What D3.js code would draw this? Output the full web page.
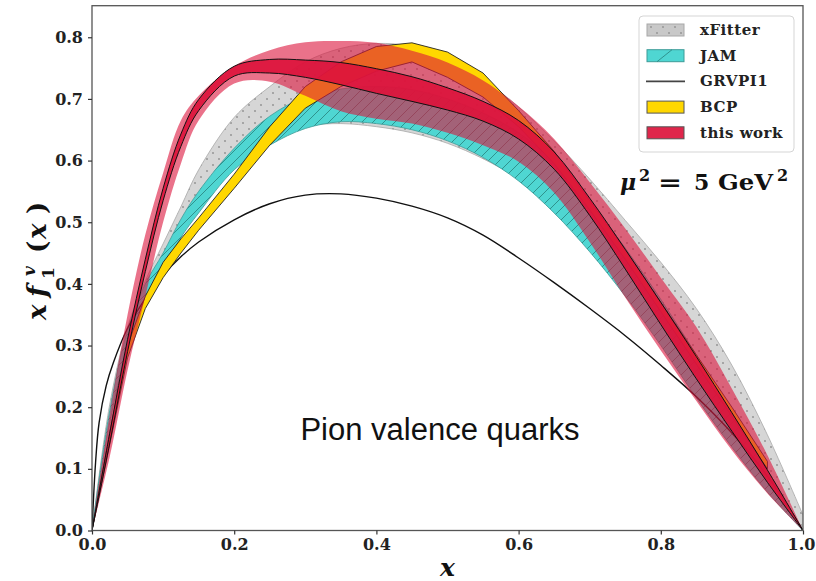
<!DOCTYPE html>
<html>
<head>
<meta charset="utf-8">
<script src="https://cdn.jsdelivr.net/npm/d3@7"></script>
<style>
  html, body { margin: 0; padding: 0; background: #fff; }
  svg { display: block; }
</style>
</head>
<body>
<svg id="chart" width="816" height="581"></svg>
<script>
// Pion valence distributions x f_1^v(x) at mu^2 = 5 GeV^2

// common x grid for the smooth bands
const xGrid = [0, 0.025, 0.05, 0.075, 0.1, 0.125, 0.15, 0.2, 0.25, 0.3, 0.35, 0.4, 0.45, 0.5, 0.55, 0.6, 0.65, 0.7, 0.75, 0.8, 0.85, 0.9, 0.95, 1.0];

// xFitter band
const xfitterLo = [0, 0.165, 0.29, 0.37, 0.42, 0.475, 0.53, 0.603, 0.642, 0.656, 0.66, 0.655, 0.645, 0.628, 0.603, 0.57, 0.525, 0.465, 0.395, 0.318, 0.237, 0.155, 0.075, 0];
const xfitterHi = [0, 0.205, 0.33, 0.405, 0.465, 0.525, 0.585, 0.67, 0.72, 0.76, 0.782, 0.79, 0.785, 0.765, 0.732, 0.687, 0.632, 0.57, 0.503, 0.435, 0.36, 0.268, 0.155, 0.025];

// JAM band
const jamLo = [0, 0.175, 0.295, 0.37, 0.42, 0.475, 0.515, 0.585, 0.625, 0.652, 0.663, 0.66, 0.65, 0.632, 0.605, 0.567, 0.515, 0.452, 0.38, 0.30, 0.215, 0.135, 0.062, 0];
const jamHi = [0, 0.195, 0.325, 0.40, 0.45, 0.505, 0.55, 0.62, 0.672, 0.703, 0.716, 0.72, 0.715, 0.70, 0.677, 0.645, 0.597, 0.533, 0.458, 0.375, 0.285, 0.19, 0.095, 0];

// GRVPI1 central curve
const grvX = [0, 0.005, 0.01, 0.02, 0.03, 0.05, 0.075, 0.1, 0.125, 0.15, 0.2, 0.25, 0.3, 0.35, 0.4, 0.45, 0.5, 0.55, 0.6, 0.65, 0.7, 0.75, 0.8, 0.85, 0.9, 0.95, 1.0];
const grvY = [0, 0.11, 0.175, 0.235, 0.272, 0.328, 0.376, 0.414, 0.444, 0.468, 0.504, 0.53, 0.544, 0.546, 0.539, 0.526, 0.507, 0.479, 0.442, 0.402, 0.36, 0.316, 0.268, 0.217, 0.158, 0.088, 0];

// BCP band (coarse grid, drawn piecewise linear)
const bcpX  = [0, 0.025, 0.05, 0.075, 0.1, 0.125, 0.15, 0.2, 0.25, 0.3, 0.35, 0.4, 0.45, 0.5, 0.55, 0.6, 0.65, 0.7, 0.75, 0.8, 0.85, 0.9, 0.95];
const bcpLo = [0, 0.14, 0.28, 0.36, 0.41, 0.45, 0.487, 0.555, 0.625, 0.685, 0.72, 0.745, 0.76, 0.735, 0.703, 0.655, 0.595, 0.52, 0.44, 0.355, 0.27, 0.185, 0.10];
const bcpHi = [0, 0.16, 0.30, 0.38, 0.435, 0.473, 0.507, 0.578, 0.655, 0.72, 0.76, 0.785, 0.791, 0.776, 0.742, 0.681, 0.615, 0.535, 0.455, 0.37, 0.285, 0.20, 0.112];

// this work: wide band and central band
const workOuterLo = [0, 0.12, 0.26, 0.38, 0.50, 0.595, 0.665, 0.725, 0.728, 0.705, 0.68, 0.668, 0.66, 0.645, 0.625, 0.598, 0.548, 0.468, 0.378, 0.292, 0.21, 0.13, 0.06, 0];
const workOuterHi = [0, 0.19, 0.35, 0.48, 0.58, 0.665, 0.705, 0.753, 0.779, 0.792, 0.794, 0.791, 0.778, 0.759, 0.73, 0.688, 0.635, 0.565, 0.49, 0.41, 0.33, 0.23, 0.122, 0];
const workInnerLo = [0, 0.142, 0.29, 0.42, 0.535, 0.623, 0.681, 0.737, 0.742, 0.735, 0.723, 0.709, 0.696, 0.682, 0.664, 0.635, 0.586, 0.511, 0.424, 0.334, 0.246, 0.161, 0.078, 0];
const workInnerHi = [0, 0.158, 0.31, 0.44, 0.555, 0.643, 0.699, 0.753, 0.764, 0.763, 0.759, 0.749, 0.736, 0.718, 0.696, 0.665, 0.614, 0.539, 0.456, 0.37, 0.282, 0.191, 0.098, 0];

// axis ticks
const xTicks = [0, 0.2, 0.4, 0.6, 0.8, 1.0];
const yTicks = [0, 0.1, 0.2, 0.3, 0.4, 0.5, 0.6, 0.7, 0.8];

// legend entries
const legendLabels = ["xFitter", "JAM", "GRVPI1", "BCP", "this work"];

const svg = d3.select("#chart");
const margin = { left: 92, right: 13, top: 5.7, bottom: 50.5 };
const W = 816, H = 581;
const yMax = 0.8512;

const x = d3.scaleLinear().domain([0, 1]).range([margin.left, W - margin.right]);
const y = d3.scaleLinear().domain([0, yMax]).range([H - margin.bottom, margin.top]);

const defs = svg.append("defs");
defs.append("clipPath").attr("id", "plotClip")
  .append("rect").attr("x", x(0)).attr("y", y(yMax))
  .attr("width", x(1) - x(0)).attr("height", y(0) - y(yMax));

// dotted hatch for xFitter
const dots = defs.append("pattern").attr("id", "dots")
  .attr("patternUnits", "userSpaceOnUse").attr("width", 12).attr("height", 12);
dots.append("circle").attr("cx", 3).attr("cy", 3).attr("r", 1.1).attr("fill", "#9a9a9a");
dots.append("circle").attr("cx", 9).attr("cy", 9).attr("r", 1.1).attr("fill", "#9a9a9a");

// diagonal hatch for JAM
const hatch = defs.append("pattern").attr("id", "hatch")
  .attr("patternUnits", "userSpaceOnUse").attr("width", 11).attr("height", 11);
hatch.append("path").attr("d", "M-1,12 L12,-1 M-3,3 L3,-3 M8,14 L14,8")
  .attr("stroke", "#2b8a86").attr("stroke-width", 0.9).attr("fill", "none");

const plot = svg.append("g").attr("clip-path", "url(#plotClip)");

function rows(xs, lo, hi) {
  return xs.map((v, i) => ({ x: v, lo: lo[i], hi: hi[i] }));
}
function bandArea(curve) {
  return d3.area().x(d => x(d.x)).y0(d => y(d.lo)).y1(d => y(d.hi)).curve(curve);
}
function edge(key, curve) {
  return d3.line().x(d => x(d.x)).y(d => y(d[key])).curve(curve);
}
const smooth = d3.curveCatmullRom.alpha(0.5);

// xFitter
const xfRows = rows(xGrid, xfitterLo, xfitterHi);
plot.append("path").datum(xfRows).attr("d", bandArea(smooth))
  .attr("fill", "#c8c8c8").attr("fill-opacity", 0.75);
plot.append("path").datum(xfRows).attr("d", bandArea(smooth)).attr("fill", "url(#dots)");
["lo", "hi"].forEach(k => plot.append("path").datum(xfRows).attr("d", edge(k, smooth))
  .attr("fill", "none").attr("stroke", "#a8a8a8").attr("stroke-width", 0.8));

// JAM
const jamRows = rows(xGrid, jamLo, jamHi);
plot.append("path").datum(jamRows).attr("d", bandArea(smooth)).attr("fill", "#4fd6d2");
plot.append("path").datum(jamRows).attr("d", bandArea(smooth)).attr("fill", "url(#hatch)");
["lo", "hi"].forEach(k => plot.append("path").datum(jamRows).attr("d", edge(k, smooth))
  .attr("fill", "none").attr("stroke", "#3d9c98").attr("stroke-width", 0.8));

// GRVPI1
plot.append("path").datum(grvX.map((v, i) => ({ x: v, c: grvY[i] })))
  .attr("d", edge("c", smooth))
  .attr("fill", "none").attr("stroke", "#111").attr("stroke-width", 1.4);

// BCP
const bcpRows = rows(bcpX, bcpLo, bcpHi);
plot.append("path").datum(bcpRows).attr("d", bandArea(d3.curveLinear))
  .attr("fill", "#ffd700").attr("stroke", "#222").attr("stroke-width", 0.9);

// this work
const outerRows = rows(xGrid, workOuterLo, workOuterHi);
plot.append("path").datum(outerRows).attr("d", bandArea(smooth))
  .attr("fill", "#dc143c").attr("fill-opacity", 0.6);
const innerRows = rows(xGrid, workInnerLo, workInnerHi);
plot.append("path").datum(innerRows).attr("d", bandArea(smooth))
  .attr("fill", "#dc143c").attr("fill-opacity", 0.92);
["lo", "hi"].forEach(k => plot.append("path").datum(innerRows).attr("d", edge(k, smooth))
  .attr("fill", "none").attr("stroke", "#111").attr("stroke-width", 1));

// frame
svg.append("rect").attr("x", x(0)).attr("y", y(yMax))
  .attr("width", x(1) - x(0)).attr("height", y(0) - y(yMax))
  .attr("fill", "none").attr("stroke", "#555").attr("stroke-width", 1.3);

// axes
const serif = "'DejaVu Serif', serif";
const xAxis = svg.append("g").attr("transform", `translate(0,${y(0)})`)
  .call(d3.axisBottom(x).tickValues(xTicks).tickFormat(d3.format(".1f")).tickSize(4).tickPadding(4));
const yAxis = svg.append("g").attr("transform", `translate(${x(0)},0)`)
  .call(d3.axisLeft(y).tickValues(yTicks).tickFormat(d3.format(".1f")).tickSize(4).tickPadding(5));
[xAxis, yAxis].forEach(a => {
  a.select(".domain").remove();
  a.selectAll(".tick line").attr("stroke", "#333").attr("stroke-width", 1.2);
  a.selectAll(".tick text").attr("font-family", serif).attr("font-weight", "bold")
    .attr("font-size", 16).attr("fill", "#222");
});
// keep the last x label inside the canvas
xAxis.selectAll(".tick text").filter(d => d === 1).attr("dx", -2);

// axis titles
svg.append("text").attr("x", (x(0) + x(1)) / 2).attr("y", 576)
  .attr("text-anchor", "middle").attr("font-family", serif)
  .attr("font-weight", "bold").attr("font-style", "italic").attr("font-size", 25)
  .attr("fill", "#111").text("x");

const yl = svg.append("g").attr("transform", "translate(46,258) rotate(-90)")
  .attr("font-family", serif).attr("font-weight", "bold").attr("fill", "#111");
const ylPieces = [
  { t: "x", x: -62, y: 0, s: 26, i: true },
  { t: "f", x: -39, y: 0, s: 26, i: true },
  { t: "v", x: -18, y: -11, s: 17, i: true },
  { t: "1", x: -21, y: 8, s: 17, i: false },
  { t: "(", x: 5, y: 0, s: 26, i: false },
  { t: "x", x: 19, y: 0, s: 26, i: true },
  { t: ")", x: 44, y: 0, s: 26, i: false }
];
ylPieces.forEach(p => yl.append("text").attr("x", p.x).attr("y", p.y)
  .attr("font-size", p.s).attr("font-style", p.i ? "italic" : "normal").text(p.t));

// scale annotation
const ann = svg.append("g").attr("font-family", serif).attr("font-weight", "bold").attr("fill", "#111");
[
  { t: "μ", x: 620, y: 190, s: 22, i: true },
  { t: "2", x: 639, y: 181, s: 16 },
  { t: "=", x: 658, y: 190, s: 22, len: 24 },
  { t: "5", x: 694, y: 190, s: 22 },
  { t: "GeV", x: 718, y: 190, s: 22, len: 55 },
  { t: "2", x: 777, y: 181, s: 16 }
].forEach(p => {
  const t = ann.append("text").attr("x", p.x).attr("y", p.y).attr("font-size", p.s)
    .attr("font-style", p.i ? "italic" : "normal").text(p.t);
  if (p.len) t.attr("textLength", p.len).attr("lengthAdjust", "spacingAndGlyphs");
});

// caption inside the plot
svg.append("text").attr("x", 440).attr("y", 440).attr("text-anchor", "middle")
  .attr("font-family", "'Liberation Sans', Arial, sans-serif").attr("font-size", 31)
  .attr("fill", "#111").text("Pion valence quarks");

// legend
const lg = svg.append("g");
lg.append("rect").attr("x", 639).attr("y", 16).attr("width", 155).attr("height", 136)
  .attr("rx", 4).attr("fill", "#fff").attr("fill-opacity", 0.85)
  .attr("stroke", "#d5d5d5").attr("stroke-width", 1);
const rowY = i => 30 + i * 25.7;
const hx = 647, hw = 37, hh = 12;
legendLabels.forEach((lab, i) => {
  const cy = rowY(i);
  const g = lg.append("g");
  if (i === 0) {
    g.append("rect").attr("x", hx).attr("y", cy - hh / 2).attr("width", hw).attr("height", hh)
      .attr("fill", "#c8c8c8").attr("stroke", "#a8a8a8");
    g.append("rect").attr("x", hx).attr("y", cy - hh / 2).attr("width", hw).attr("height", hh)
      .attr("fill", "url(#dots)");
  } else if (i === 1) {
    g.append("rect").attr("x", hx).attr("y", cy - hh / 2).attr("width", hw).attr("height", hh)
      .attr("fill", "#4fd6d2").attr("stroke", "#3d9c98");
    g.append("line").attr("x1", hx + 10).attr("y1", cy + hh / 2).attr("x2", hx + 25).attr("y2", cy - hh / 2)
      .attr("stroke", "#2b8a86").attr("stroke-width", 0.9);
  } else if (i === 2) {
    g.append("line").attr("x1", hx - 1).attr("x2", hx + hw + 1).attr("y1", cy).attr("y2", cy)
      .attr("stroke", "#444").attr("stroke-width", 1.6);
  } else if (i === 3) {
    g.append("rect").attr("x", hx).attr("y", cy - hh / 2).attr("width", hw).attr("height", hh)
      .attr("fill", "#ffd700").attr("stroke", "#555");
  } else {
    g.append("rect").attr("x", hx).attr("y", cy - hh / 2).attr("width", hw).attr("height", hh)
      .attr("fill", "#dc143c").attr("fill-opacity", 0.92).attr("stroke", "#555");
  }
  g.append("text").attr("x", 700).attr("y", cy + 5)
    .attr("font-family", serif).attr("font-weight", "bold").attr("font-size", 15)
    .attr("letter-spacing", 0.5).attr("fill", "#222").text(lab);
});
</script>
</body>
</html>
